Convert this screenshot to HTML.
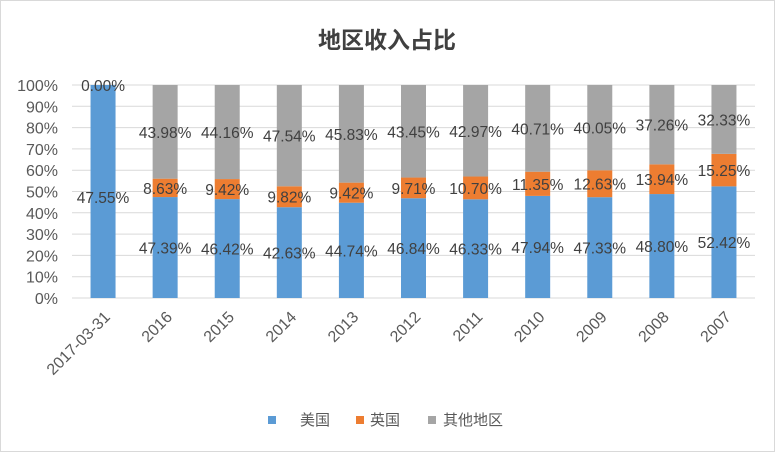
<!DOCTYPE html>
<html><head><meta charset="utf-8"><style>
body{margin:0;background:#fff;}
svg{display:block;font-family:"Liberation Sans","Noto Sans CJK SC",sans-serif;}
</style></head><body>
<svg id="c" width="775" height="452">
<rect x="0.5" y="0.5" width="774" height="451" fill="#fff" stroke="#d9d9d9"/>
<text x="387" y="48" text-anchor="middle" font-size="23" font-weight="bold" fill="#404040">地区收入占比</text>
<g id="grid"></g><g id="bars"></g><g id="labels"></g>
<g>
<rect x="268" y="416" width="8" height="8" fill="#5b9bd5"/>
<text x="300" y="425" font-size="15" fill="#595959">美国</text>
<rect x="356" y="416" width="8" height="8" fill="#ed7d31"/>
<text x="370" y="425" font-size="15" fill="#595959">英国</text>
<rect x="428" y="416" width="8" height="8" fill="#a5a5a5"/>
<text x="443" y="425" font-size="15" fill="#595959">其他地区</text>
</g>
</svg>
<script>
const categories=["2017-03-31","2016","2015","2014","2013","2012","2011","2010","2009","2008","2007"];
const usValues=[100,47.39,46.42,42.63,44.74,46.84,46.33,47.94,47.33,48.80,52.42];
const ukValues=[0,8.63,9.42,9.82,9.42,9.71,10.70,11.35,12.63,13.94,15.25];
const otherValues=[0,43.98,44.16,47.54,45.83,43.45,42.97,40.71,40.05,37.26,32.33];
const usLabels=["47.55%","47.39%","46.42%","42.63%","44.74%","46.84%","46.33%","47.94%","47.33%","48.80%","52.42%"];
const ukLabels=["","8.63%","9.42%","9.82%","9.42%","9.71%","10.70%","11.35%","12.63%","13.94%","15.25%"];
const otherLabels=["0.00%","43.98%","44.16%","47.54%","45.83%","43.45%","42.97%","40.71%","40.05%","37.26%","32.33%"];
const yTicks=[0,10,20,30,40,50,60,70,80,90,100];
const NS="http://www.w3.org/2000/svg";
const X0=72,X1=755,Y0=298,Y1=85,band=(X1-X0)/categories.length,bw=25;
const y=v=>Y0-(v/100)*(Y0-Y1);
const cx=i=>X0+band*(i+0.5);
function mk(t,a,p){const e=document.createElementNS(NS,t);for(const k in a)e.setAttribute(k,a[k]);p.appendChild(e);return e;}
const grid=document.getElementById('grid'),bars=document.getElementById('bars'),labs=document.getElementById('labels'),svg=document.getElementById('c');
yTicks.forEach(t=>{
 const l=mk('line',{x1:X0,x2:X1,y1:y(t),y2:y(t),stroke:'#d9d9d9'},grid);
 
 
 const tx=mk('text',{x:58,y:y(t)+6,'text-anchor':'end','font-size':16,fill:'#595959'},grid);
 tx.textContent=t+'%';
 
 
});
const series=[[usValues,'#5b9bd5','us',usLabels],[ukValues,'#ed7d31','uk',ukLabels],[otherValues,'#a5a5a5','other',otherLabels]];
categories.forEach((c,i)=>{
 let base=0;
 series.forEach(([vals,col,nm,lb])=>{
  const v=vals[i];
  if(v>0){
   const r=mk('rect',{x:cx(i)-bw/2,y:y(base+v),width:bw,height:y(base)-y(base+v),fill:col},bars);
   
   
  }
  let ly=y(base+v/2);
  if(i===0&&nm==='us')ly=y(47.5);
  if(i===0&&nm==='other')ly=y(100);
  if(lb[i]){
   const t=mk('text',{x:cx(i),y:ly+6,'text-anchor':'middle','font-size':15.5,fill:'#404040'},labs);
   t.textContent=lb[i];
   
   
  }
  base+=v;
 });
 const xl=mk('text',{x:0,y:0,'text-anchor':'end','font-size':16,fill:'#595959',transform:`translate(${cx(i)+8},${Y0+20}) rotate(-45)`},svg);
 xl.textContent=c;
 
 
});
</script>
</body></html>
